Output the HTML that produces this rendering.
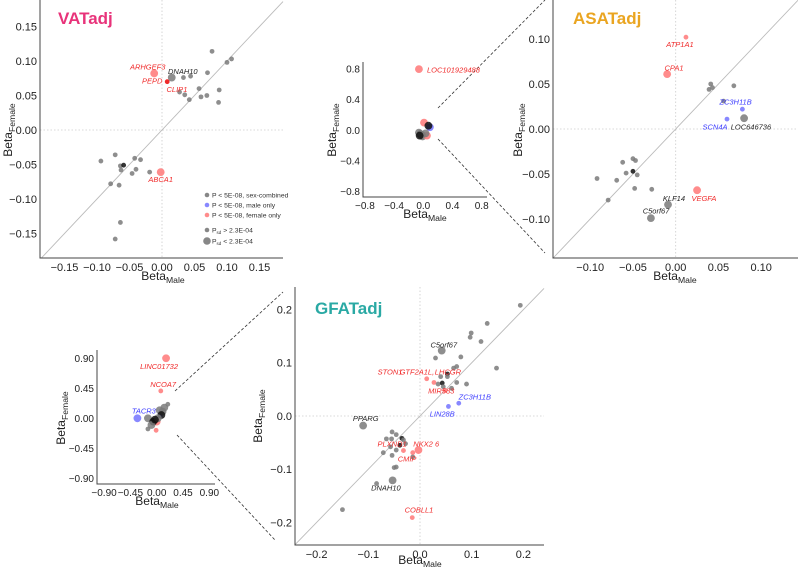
<!DOCTYPE html>
<html><head><meta charset="utf-8"><style>
body{margin:0;background:#fff;}
svg{display:block;font-family:"Liberation Sans",sans-serif;}
</style></head><body>
<svg id="fig" width="798" height="568" viewBox="0 0 798 568" xmlns="http://www.w3.org/2000/svg">
<g stroke="#333" stroke-width="0.8" stroke-dasharray="3,2" fill="none">
<line x1="438" y1="108" x2="545" y2="0"/>
<line x1="438" y1="139" x2="545" y2="253"/>
<line x1="175" y1="391" x2="283" y2="292"/>
<line x1="177" y1="435" x2="275" y2="540"/>
</g>
</svg>
<script>
// ---- VAT data ----
const vatX=[0.077,0.100,0.107,0.070,0.033,0.044,0.015,-0.012,0.008,0.027,0.035,0.042,0.057,0.060,0.069,0.088,0.087,-0.072,-0.094,-0.042,-0.033,-0.064,-0.059,-0.063,-0.040,-0.046,-0.019,-0.002,-0.079,-0.066,-0.064,-0.072];
const vatY=[0.114,0.098,0.103,0.083,0.076,0.078,0.076,0.082,0.070,0.055,0.051,0.044,0.060,0.048,0.050,0.058,0.040,-0.036,-0.045,-0.041,-0.043,-0.052,-0.051,-0.058,-0.057,-0.063,-0.061,-0.061,-0.078,-0.080,-0.134,-0.158];
const vatType=['c','c','c','c','c','c','c','f','r','c','c','c','c','c','c','c','c','c','c','c','c','c','k','c','c','c','c','f','c','c','c','c'];
const vatBig=[0,0,0,0,0,0,1,1,0,0,0,0,0,0,0,0,0,0,0,0,0,0,0,0,0,0,0,1,0,0,0,0];
const vatLabels=['ARHGEF3','DNAH10','PEPD','CLIP1','ABCA1'];
const vatLabelX=[-0.022,0.032,-0.015,0.023,-0.002];
const vatLabelY=[0.091,0.085,0.071,0.059,-0.072];
const vatLabelType=['f','c','f','f','f'];
const vatTicks=[-0.15,-0.10,-0.05,0.00,0.05,0.10,0.15];
const vatTickLabels=['−0.15','−0.10','−0.05','0.00','0.05','0.10','0.15'];
// ---- VAT inset (full range) ----
const vinX=[-0.06,0.01,0.09,0.07,-0.04,-0.01,0.05,-0.06,-0.02,0.03,-0.05];
const vinY=[0.80,0.10,0.04,0.06,-0.05,-0.08,-0.07,-0.03,-0.06,-0.04,-0.07];
const vinType=['f','f','m','k','k','c','f','c','c','c','k'];
const vinBig=[1,1,1,1,1,1,1,1,1,1,1];
const vinLabels=['LOC101929488'];
const vinLabelX=[0.05];
const vinLabelY=[0.79];
const vinLabelType=['f'];
const vinTicks=[-0.8,-0.4,0.0,0.4,0.8];
const vinTickLabels=['−0.8','−0.4','0.0','0.4','0.8'];
// ---- ASAT data ----
const asatX=[0.012,-0.010,0.041,0.043,0.039,0.068,0.056,0.078,0.060,0.080,-0.062,-0.050,-0.047,-0.092,-0.069,-0.058,-0.050,-0.045,-0.048,-0.028,-0.079,-0.009,-0.029,0.025];
const asatY=[0.102,0.061,0.050,0.046,0.044,0.048,0.031,0.022,0.011,0.012,-0.037,-0.033,-0.035,-0.055,-0.057,-0.049,-0.047,-0.051,-0.066,-0.067,-0.079,-0.084,-0.099,-0.068];
const asatType=['f','f','c','c','c','c','c','m','m','c','c','c','c','c','c','c','k','c','c','c','c','c','c','f'];
const asatBig=[0,1,0,0,0,0,0,0,0,1,0,0,0,0,0,0,0,0,0,0,0,1,1,1];
const asatLabels=['ATP1A1','CPA1','ZC3H11B','SCN4A','LOC646736','KLF14','VEGFA','C5orf67'];
const asatLabelX=[0.005,-0.002,0.070,0.046,0.088,-0.002,0.033,-0.023];
const asatLabelY=[0.094,0.068,0.030,0.002,0.002,-0.077,-0.077,-0.091];
const asatLabelType=['f','f','m','m','c','c','f','c'];
const asatTicks=[-0.10,-0.05,0.00,0.05,0.10];
const asatTickLabels=['−0.10','−0.05','0.00','0.05','0.10'];
// ---- GFAT data ----
const gfatX=[0.194,0.130,0.099,0.097,0.118,0.042,0.030,0.079,0.071,0.065,0.148,0.053,0.053,0.040,0.013,0.027,0.035,0.043,0.045,0.071,0.090,0.061,0.048,0.055,0.075,-0.110,-0.054,-0.046,-0.065,-0.055,-0.035,-0.032,-0.028,-0.039,-0.057,-0.046,-0.032,-0.071,-0.054,-0.014,-0.003,-0.014,-0.046,-0.050,-0.053,-0.084,-0.150,-0.015];
const gfatY=[0.208,0.174,0.156,0.148,0.140,0.123,0.109,0.111,0.093,0.090,0.090,0.079,0.074,0.074,0.070,0.063,0.060,0.062,0.055,0.063,0.060,0.052,0.048,0.018,0.024,-0.018,-0.030,-0.035,-0.043,-0.043,-0.042,-0.045,-0.052,-0.055,-0.058,-0.064,-0.065,-0.069,-0.074,-0.069,-0.064,-0.077,-0.096,-0.097,-0.121,-0.127,-0.176,-0.191];
const gfatType=['c','c','c','c','c','c','c','c','c','c','c','k','c','c','f','f','c','k','c','c','c','c','f','m','m','c','c','c','c','c','k','c','c','k','c','c','f','c','c','f','f','c','c','c','c','c','c','f'];
const gfatBig=[0,0,0,0,0,1,0,0,0,0,0,0,0,0,0,0,0,0,0,0,0,0,0,0,0,1,0,0,0,0,0,0,0,0,0,0,0,0,0,0,1,0,0,0,1,0,0,0];
const gfatLabels=['C5orf67','STON1','GTF2A1L,','LHCGR','MIR583','ZC3H11B','LIN28B','PPARG','PLXND1','NKX2 6','CMIP','DNAH10','COBLL1'];
const gfatLabelX=[0.046,-0.058,-0.006,0.054,0.041,0.106,0.043,-0.105,-0.054,0.012,-0.025,-0.066,-0.002];
const gfatLabelY=[0.133,0.083,0.083,0.083,0.047,0.036,0.004,-0.005,-0.053,-0.053,-0.081,-0.135,-0.177];
const gfatLabelType=['c','f','f','f','f','m','m','c','f','f','f','c','f'];
const gfatTicks=[-0.2,-0.1,0.0,0.1,0.2];
const gfatTickLabels=['−0.2','−0.1','0.0','0.1','0.2'];
// ---- GFAT inset (full range) ----
const ginX=[0.16,0.07,-0.33,0.06,0.00,-0.01,-0.15,0.19,0.13,0.05,-0.15,-0.06,-0.09,0.10,0.08,0.02,-0.03];
const ginY=[0.90,0.41,0.00,0.035,-0.05,-0.18,-0.16,0.21,0.16,0.12,0.00,-0.05,-0.10,0.10,0.05,0.00,-0.02];
const ginType=['f','f','m','m','f','f','c','c','c','c','c','k','c','c','k','c','k'];
const ginBig=[1,0,1,0,1,0,0,0,1,1,1,1,1,1,1,1,1];
const ginLabels=['LINC01732','NCOA7','TACR3'];
const ginLabelX=[0.04,0.11,-0.22];
const ginLabelY=[0.78,0.51,0.11];
const ginLabelType=['f','f','m'];
const ginTicks=[-0.90,-0.45,0.00,0.45,0.90];
const ginTickLabels=['−0.90','−0.45','0.00','0.45','0.90'];

const NS='http://www.w3.org/2000/svg';
const svg=document.getElementById('fig');
function mk(tag,attrs,parent,text){const e=document.createElementNS(NS,tag);for(const k in attrs)e.setAttribute(k,attrs[k]);if(text!==undefined)e.textContent=text;(parent||svg).appendChild(e);return e;}
const FILL={c:'#7a7a7a',k:'#111',m:'#7b7bff',f:'#ff7f7f',r:'#ee2a2a'};
const OP={c:0.85,k:0.85,m:0.9,f:0.9,r:1};
const TXT={c:'#222',k:'#222',m:'#3a3aff',f:'#f02a2a',r:'#f02a2a'};

function panel(p){
  const g=mk('g',{});
  
  
  const sx=v=>p.x0+v*p.kx, sy=v=>p.y0-v*p.ky;
  if(!p.noRef){
    const ref=mk('g',{stroke:'#ccc','stroke-width':0.8,'stroke-dasharray':'1.5,2'},g);
    
    
    mk('line',{x1:sx(0),x2:sx(0),y1:p.top,y2:p.bottom},ref);
    mk('line',{x1:p.left,x2:p.right,y1:sy(0),y2:sy(0)},ref);
    const lo=Math.max((p.left-p.x0)/p.kx,(p.y0-p.bottom)/p.ky), hi=Math.min((p.right-p.x0)/p.kx,(p.y0-p.top)/p.ky);
    const dg=mk('line',{x1:sx(lo),y1:sy(lo),x2:sx(hi),y2:sy(hi),stroke:'#bbb','stroke-width':0.9},g);
    
    
  }
  const ax=mk('g',{stroke:'#444','stroke-width':1},g);
  
  
  mk('line',{x1:p.left,x2:p.left,y1:p.top,y2:p.bottom+0.5},ax);
  mk('line',{x1:p.left,x2:p.right,y1:p.bottom,y2:p.bottom},ax);
  const fs=p.fs;
  p.ticks.forEach((t,i)=>{
    const xt=mk('text',{x:sx(t),y:p.bottom+fs+2,'text-anchor':'middle','font-size':fs,fill:'#222'},g,p.tickLabels[i]);
    
    
    const yt=mk('text',{x:p.left-3,y:sy(t)+fs*0.35,'text-anchor':'end','font-size':fs,fill:'#222'},g,p.tickLabels[i]);
    
    
  });
  const lfs=p.lfs;
  const xl=mk('text',{x:p.xlx,y:p.xly,'text-anchor':'middle','font-size':lfs,fill:'#222'},g);
  
  
  mk('tspan',{},xl,'Beta');mk('tspan',{'font-size':lfs*0.72,dy:3},xl,'Male');
  const yl=mk('text',{x:0,y:0,'text-anchor':'middle','font-size':lfs,fill:'#222',transform:`translate(${p.ylx},${p.yly}) rotate(-90)`},g);
  
  
  mk('tspan',{},yl,'Beta');mk('tspan',{'font-size':lfs*0.72,dy:3},yl,'Female');
  if(p.title){
    const tt=mk('text',{x:p.tx,y:p.ty,'font-size':17,'font-weight':'bold',fill:p.tcol},g,p.title);
    
    
  }
  const pts=mk('g',{},g);
  
  
  p.xs.forEach((v,i)=>{
    const c=mk('circle',{cx:sx(v),cy:sy(p.ys[i]),r:p.big[i]?p.rb:p.rs,fill:FILL[p.type[i]],'fill-opacity':OP[p.type[i]]},pts);
    
    
  });
  p.labels.forEach((l,i)=>{
    const t=mk('text',{x:sx(p.lx[i]),y:sy(p.ly[i])+2.5,'text-anchor':p.anchor||'middle','font-size':p.gfs,'font-style':'italic',fill:TXT[p.lt[i]]},g,l);
    
    
  });
  return g;
}

panel({name:'vat-panel',x0:162,kx:650,y0:130,ky:690,left:40,right:283,top:0,bottom:258,ticks:vatTicks,tickLabels:vatTickLabels,fs:11,lfs:12,xlx:163,xly:280,ylx:12,yly:130,title:'VATadj',tx:58,ty:24,tcol:'#e8337a',xs:vatX,ys:vatY,type:vatType,big:vatBig,rs:2.4,rb:3.9,labels:vatLabels,lx:vatLabelX,ly:vatLabelY,lt:vatLabelType,gfs:7.5});
panel({name:'vat-full-range-inset',noRef:true,x0:423.3,kx:73,y0:130.3,ky:76.5,left:363,right:487,top:62,bottom:197,ticks:vinTicks,tickLabels:vinTickLabels,fs:10,lfs:12,xlx:425,xly:218,ylx:336,yly:130,xs:vinX,ys:vinY,type:vinType,big:vinBig,rs:2.4,rb:3.9,labels:vinLabels,lx:vinLabelX,ly:vinLabelY,lt:vinLabelType,gfs:7.5,anchor:'start'});
panel({name:'asat-panel',x0:675.7,kx:855,y0:129,ky:900,left:553,right:798,top:0,bottom:258,ticks:asatTicks,tickLabels:asatTickLabels,fs:11,lfs:12,xlx:675,xly:280,ylx:522,yly:130,title:'ASATadj',tx:573,ty:24,tcol:'#eaa521',xs:asatX,ys:asatY,type:asatType,big:asatBig,rs:2.4,rb:3.9,labels:asatLabels,lx:asatLabelX,ly:asatLabelY,lt:asatLabelType,gfs:7.5});
panel({name:'gfat-full-range-inset',noRef:true,x0:156.7,kx:58.5,y0:418.3,ky:66.7,left:97,right:215,top:350,bottom:484,ticks:ginTicks,tickLabels:ginTickLabels,fs:10,lfs:12,xlx:157,xly:505,ylx:65,yly:418,xs:ginX,ys:ginY,type:ginType,big:ginBig,rs:2.4,rb:3.9,labels:ginLabels,lx:ginLabelX,ly:ginLabelY,lt:ginLabelType,gfs:7.5});
panel({name:'gfat-panel',x0:420,kx:517,y0:416,ky:532,left:295,right:544,top:287,bottom:545,ticks:gfatTicks,tickLabels:gfatTickLabels,fs:11,lfs:12,xlx:420,xly:564,ylx:262,yly:416,title:'GFATadj',tx:315,ty:314,tcol:'#2aa9a4',xs:gfatX,ys:gfatY,type:gfatType,big:gfatBig,rs:2.4,rb:3.9,labels:gfatLabels,lx:gfatLabelX,ly:gfatLabelY,lt:gfatLabelType,gfs:7.5});

const legText=['P < 5E-08, sex-combined','P < 5E-08, male only','P < 5E-08, female only'];
const legType=['c','m','f'];
const leg=mk('g',{'font-size':6.8,fill:'#333'});


legText.forEach((s,i)=>{
  const y=195+i*10;
  const c=mk('circle',{cx:207,cy:y,r:2.3,fill:FILL[legType[i]],'fill-opacity':0.9},leg);
  
  
  const t=mk('text',{x:212,y:y+2.3},leg,s);
  
  
});
[[230,2.3,'>'],[241,3.8,'<']].forEach(a=>{
  const c=mk('circle',{cx:207,cy:a[0],r:a[1],fill:FILL.c,'fill-opacity':0.9},leg);
  
  
  const t=mk('text',{x:212,y:a[0]+2.3},leg);
  
  
  mk('tspan',{},t,'P');mk('tspan',{'font-size':4.5,dy:1.5},t,'sd');mk('tspan',{dy:-1.5},t,' '+a[2]+' 2.3E-04');
});
</script>
</body></html>
